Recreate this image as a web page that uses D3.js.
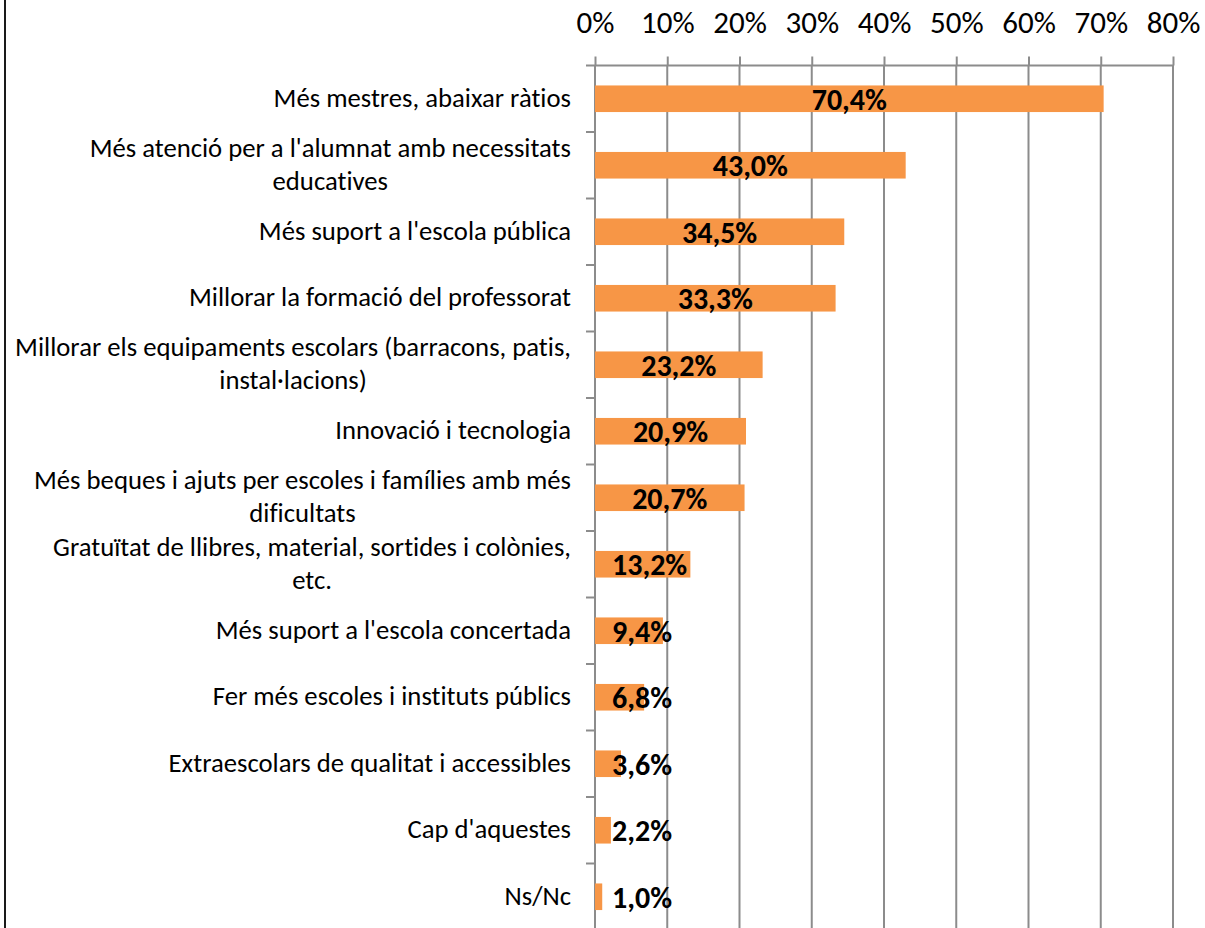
<!DOCTYPE html>
<html>
<head>
<meta charset="utf-8">
<script src="https://cdn.jsdelivr.net/npm/d3@7/dist/d3.min.js"></script>
<style>
  html, body { margin: 0; padding: 0; background: #fff; }
  svg { display: block; font-family: Carlito, Calibri, Lato, sans-serif; font-variant-ligatures: none; }
</style>
</head>
<body>
<div id="chart"></div>
<script>
// categories, "\n" marks where the original label wraps
var categories = [
    "Més mestres, abaixar ràtios",
    "Més atenció per a l'alumnat amb necessitats\neducatives",
    "Més suport a l'escola pública",
    "Millorar la formació del professorat",
    "Millorar els equipaments escolars (barracons, patis,\ninstal·lacions)",
    "Innovació i tecnologia",
    "Més beques i ajuts per escoles i famílies amb més\ndificultats",
    "Gratuïtat de llibres, material, sortides i colònies,\netc.",
    "Més suport a l'escola concertada",
    "Fer més escoles i instituts públics",
    "Extraescolars de qualitat i accessibles",
    "Cap d'aquestes",
    "Ns/Nc"
];
var values = [70.4, 43.0, 34.5, 33.3, 23.2, 20.9, 20.7, 13.2, 9.4, 6.8, 3.6, 2.2, 1.0];
var tickValues = [0, 10, 20, 30, 40, 50, 60, 70, 80];

(function () {
    var width = 1205,
        height = 928,
        plotLeft = 595, plotRight = 1173,
        plotTop = 65.5, plotBottom = 930,
        gridColor = '#8c8c8c',
        barColor = '#f79646';

    var data = categories.map(function (c, i) { return { name: c, value: values[i] }; });

    var svg = d3.select('#chart')
        .append('svg')
        .attr('width', width)
        .attr('height', height);

    var x = d3.scaleLinear().domain([0, 80]).range([plotLeft, plotRight]);
    var y = d3.scaleBand()
        .domain(categories)
        .range([plotTop, plotBottom])
        .paddingInner(0.6)
        .paddingOuter(0.3);
    var step = y.step();

    // chart border (only left edge is visible in the crop)
    svg.append('line')
        .attr('x1', 5).attr('x2', 5)
        .attr('y1', 0).attr('y2', height)
        .attr('stroke', '#1a1a1a')
        .attr('stroke-width', 2);

    // vertical gridlines
    svg.append('g').attr('class', 'grid')
        .selectAll('line')
        .data(tickValues.slice(1))
        .enter()
        .append('line')
            .attr('x1', function (d) { return x(d); })
            .attr('x2', function (d) { return x(d); })
            .attr('y1', plotTop)
            .attr('y2', plotBottom)
            .attr('stroke', gridColor)
            .attr('stroke-width', 2);

    // top value axis
    var xAxis = d3.axisTop(x)
        .tickValues(tickValues)
        .tickSize(9)
        .tickPadding(23.5)
        .tickFormat(function (d) { return d + '%'; });
    var gx = svg.append('g')
        .attr('transform', 'translate(0,' + plotTop + ')')
        .call(xAxis);
    gx.select('.domain').remove();
    gx.selectAll('.tick line').attr('stroke', gridColor).attr('stroke-width', 2);
    gx.selectAll('.tick text')
        .attr('fill', '#000')
        .style('font-size', '31px')
        .style('font-family', 'Carlito, Calibri, Lato, sans-serif');
    gx.append('line')
        .attr('x1', plotLeft - 9).attr('x2', plotRight + 1)
        .attr('y1', 0).attr('y2', 0)
        .attr('stroke', gridColor).attr('stroke-width', 2);

    // category axis line + ticks at band boundaries
    svg.append('line')
        .attr('x1', plotLeft).attr('x2', plotLeft)
        .attr('y1', plotTop).attr('y2', plotBottom)
        .attr('stroke', gridColor).attr('stroke-width', 2);
    svg.append('g')
        .selectAll('line')
        .data(categories)
        .enter()
        .append('line')
            .attr('x1', plotLeft - 9).attr('x2', plotLeft)
            .attr('y1', function (d) { return y(d) - step * y.paddingInner() / 2 + step; })
            .attr('y2', function (d) { return y(d) - step * y.paddingInner() / 2 + step; })
            .attr('stroke', gridColor).attr('stroke-width', 2);

    // bars
    svg.append('g')
        .selectAll('rect')
        .data(data)
        .enter()
        .append('rect')
            .attr('x', x(0))
            .attr('y', function (d) { return y(d.name); })
            .attr('width', function (d) { return x(d.value) - x(0); })
            .attr('height', y.bandwidth())
            .attr('fill', barColor);

    // category labels: block right aligned, lines centred inside it
    var lineHeight = 33;
    svg.append('g')
        .selectAll('g')
        .data(data)
        .enter()
        .append('g')
        .each(function (d) {
            var g = d3.select(this);
            var lines = d.name.split('\n');
            var cy = y(d.name) + y.bandwidth() / 2;
            var texts = lines.map(function (l, i) {
                return g.append('text')
                    .attr('y', cy + (i - (lines.length - 1) / 2) * lineHeight + 8)
                    .attr('text-anchor', 'middle')
                    .style('font-size', '26.7px')
                    .attr('fill', '#000')
                    .text(l);
            });
            var maxW = d3.max(texts, function (t) { return t.node().getComputedTextLength(); });
            texts.forEach(function (t) { t.attr('x', 571 - maxW / 2); });
        });

    // value labels, centred on bar but kept clear of the axis
    svg.append('g')
        .selectAll('text')
        .data(data)
        .enter()
        .append('text')
            .attr('y', function (d) { return y(d.name) + y.bandwidth() / 2 + 11; })
            .style('font-size', '30px')
            .style('font-weight', 'bold')
            .attr('fill', '#000')
            .text(function (d) { return d.value.toFixed(1).replace('.', ',') + '%'; })
            .attr('x', function (d) {
                var w = this.getComputedTextLength();
                return Math.max(x(0) + 17, (x(0) + x(d.value)) / 2 - w / 2);
            });
})();
</script>
</body>
</html>
